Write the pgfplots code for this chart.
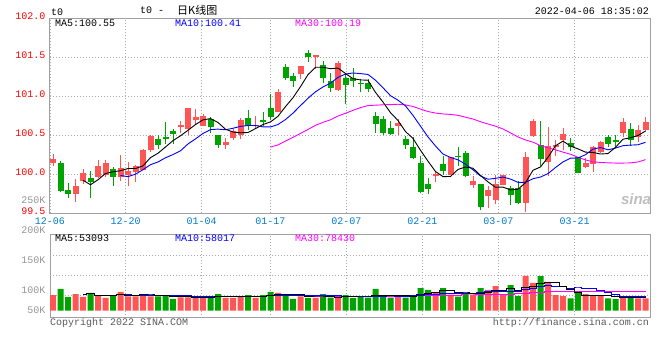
\documentclass[border=0pt]{standalone}
\usepackage{pgfplots}
\pgfplotsset{compat=1.18}
\usepackage{pgfplotstable}
\usepackage{fontspec}
\setmainfont{Liberation Mono}
\newfontfamily\cjk{Noto Sans CJK SC}
\newfontfamily\sinafont{Liberation Sans}

\definecolor{cred}{RGB}{255,85,85}
\definecolor{cgreen}{RGB}{0,163,0}
\definecolor{cprice}{RGB}{255,0,0}
\definecolor{cxlab}{RGB}{0,122,204}
\definecolor{cvlab}{RGB}{150,150,150}
\definecolor{cgrid}{RGB}{170,170,170}
\definecolor{cborder}{RGB}{160,160,160}
\definecolor{cmag}{RGB}{255,0,255}
\definecolor{cblue}{RGB}{0,0,255}
\definecolor{ccopy}{RGB}{90,90,90}

% daily candles: index, open, high, low, close
\pgfplotstableread{
i o h l c
0 100.15 100.26 100.11 100.20
3 99.75 99.94 99.645 99.855
4 99.92 100.07 99.88 100.02
6 99.96 100.18 99.95 100.11
7 99.99 100.18 99.96 100.145
9 99.96 100.25 99.91 100.085
10 99.99 100.16 99.85 100.047
11 100.026 100.12 99.906 100.107
12 100.056 100.33 100.056 100.316
13 100.308 100.50 100.29 100.496
17 100.61 100.68 100.526 100.63
18 100.58 100.85 100.50 100.85
19 100.70 100.84 100.65 100.74
20 100.62 100.77 100.62 100.75
23 100.37 100.47 100.33 100.42
24 100.47 100.58 100.44 100.556
25 100.51 100.72 100.457 100.70
27 100.62 100.75 100.58 100.63
30 100.80 101.09 100.80 101.056
33 101.28 101.39 101.22 101.39
35 101.50 101.53 101.35 101.53
38 101.08 101.45 101.07 101.43
46 100.615 100.705 100.50 100.66
51 99.98 100.047 99.906 100.004
53 99.996 100.226 99.99 100.22
56 99.86 99.98 99.825 99.915
58 99.72 99.855 99.564 99.80
59 99.67 99.99 99.62 99.876
60 99.86 99.996 99.86 99.99
63 99.63 100.286 99.52 100.22
64 100.49 100.705 100.48 100.68
66 100.16 100.60 99.98 100.36
67 100.346 100.44 100.235 100.37
68 100.44 100.59 100.31 100.517
71 100.094 100.21 100.08 100.145
72 100.13 100.363 100.03 100.35
73 100.28 100.43 100.27 100.415
76 100.526 100.72 100.474 100.667
78 100.48 100.63 100.42 100.57
79 100.564 100.74 100.556 100.67
}\redc

\pgfplotstableread{
i o h l c
1 100.145 100.17 99.77 99.786
2 99.80 99.89 99.70 99.75
5 99.957 100.04 99.70 99.906
8 100.07 100.09 99.855 99.97
14 100.45 100.51 100.33 100.37
15 100.48 100.67 100.39 100.45
16 100.556 100.58 100.39 100.52
21 100.71 100.74 100.53 100.60
22 100.50 100.50 100.34 100.38
26 100.72 100.82 100.57 100.62
28 100.70 100.80 100.62 100.675
29 100.85 101.03 100.69 100.73
31 101.37 101.41 101.21 101.24
32 101.26 101.30 101.12 101.20
34 101.56 101.59 101.44 101.50
36 101.40 101.45 101.17 101.24
37 101.19 101.30 101.06 101.11
39 101.23 101.30 100.90 101.15
40 101.24 101.36 101.12 101.20
41 101.17 101.22 101.05 101.16
42 101.175 101.22 101.05 101.09
43 100.75 100.80 100.53 100.65
44 100.71 100.75 100.50 100.53
45 100.59 100.68 100.51 100.52
47 100.45 100.49 100.33 100.38
48 100.35 100.48 100.20 100.21
49 100.14 100.24 99.756 99.77
50 99.876 99.95 99.75 99.816
52 100.13 100.24 99.996 100.047
54 100.24 100.35 100.107 100.22
55 100.27 100.30 99.96 99.98
57 99.876 99.876 99.54 99.585
61 99.825 99.85 99.61 99.74
62 99.825 99.915 99.62 99.63
65 100.376 100.68 100.10 100.20
69 100.40 100.46 100.30 100.355
70 100.22 100.226 100.02 100.02
74 100.474 100.51 100.346 100.39
75 100.44 100.50 100.355 100.42
77 100.58 100.658 100.368 100.44
}\greenc

% volume (thousands)
\pgfplotstableread{
i v
0 64
3 68
4 57
6 64
7 53
9 77
10 59
11 59
12 68
13 59
17 55
18 55
19 53
20 60
23 53
24 53
25 59
27 53
30 73
33 59
35 53
38 52
46 57
51 73
53 66
56 64
58 85
59 101
60 68
63 143
64 114
66 118
67 64
68 60
71 68
72 61
73 61
76 60
78 51
79 51
}\volr

\pgfplotstableread{
i v
1 89
2 57
5 73
8 64
14 59
15 64
16 49
21 57
22 68
26 64
28 64
29 77
31 68
32 48
34 53
36 68
37 54
39 64
40 52
41 59
42 54
43 89
44 57
45 54
47 54
48 64
49 93
50 85
52 93
54 58
55 73
57 93
61 105
62 61
65 142
69 51
70 73
74 51
75 47
77 60
}\volg

\pgfplotsset{
  kpanel/.style={
    scale only axis, anchor=south west, width=600bp,
    xmin=-0.4, xmax=79.6,
    axis line style={draw=cborder, line width=1bp},
    major tick length=0pt,
    tick style={draw=none},
    grid style={draw=cgrid, line width=0.8bp, dash pattern=on 1bp off 2bp},
    every tick label/.append style={font=\fontsize{10bp}{12bp}\selectfont, inner sep=0pt},
    /pgf/number format/assume math mode=true,
  },
  wick/.style={only marks, mark=*, mark size=0pt, mark options={draw=none, fill=none}, forget plot,
    error bars/.cd, y dir=plus, y explicit, error mark=none,
    error bar style={#1, line width=1bp}},
  body/.style={only marks, mark=*, mark size=0pt, mark options={draw=none, fill=none}, forget plot,
    error bars/.cd, y dir=plus, y explicit, error mark=none,
    error bar style={#1, line width=6bp}},
}

\begin{document}
\begin{tikzpicture}
\fill[white] (0bp,0bp) rectangle (660bp,360bp);
\path[use as bounding box] (0bp,0bp) rectangle (660bp,360bp);

% ---------------- price panel ----------------
\begin{axis}[kpanel,
  at={(50bp,146.7bp)}, height=195bp,
  ymin=99.5, ymax=102,
  xtick={-0.4,9.69,19.83,28.97,39.11,49.24,59.37,69.56},
  xticklabels={12-06,12-20,01-04,01-17,02-07,02-21,03-07,03-21},
  xticklabel style={anchor=base, yshift=-11.7bp, text=cxlab},
  ytick={99.5,100,100.5,101,101.5,102},
  yticklabels={99.5,100.0,100.5,101.0,101.5,102.0},
  yticklabel style={anchor=base east, xshift=-4.3bp, yshift=-1bp, text=cprice},
  grid=major,
]
\addplot[wick=cred] table[x=i, y=l, y error plus expr=\thisrow{h}-\thisrow{l}] {\redc};
\addplot[wick=cgreen] table[x=i, y=l, y error plus expr=\thisrow{h}-\thisrow{l}] {\greenc};
\addplot[body=cred] table[x=i, y=o, y error plus expr=\thisrow{c}-\thisrow{o}] {\redc};
\addplot[body=cgreen] table[x=i, y=c, y error plus expr=\thisrow{o}-\thisrow{c}] {\greenc};

% MA30
\addplot[cmag, line width=0.9bp, mark=none] coordinates {
(29,100.349) (30,100.377) (31,100.426) (32,100.474) (33,100.525) (34,100.574) (35,100.628) (36,100.666) (37,100.698) (38,100.747) (39,100.782) (40,100.82) (41,100.855) (42,100.881) (43,100.886) (44,100.891) (45,100.894) (46,100.898) (47,100.89) (48,100.869) (49,100.836) (50,100.805) (51,100.785) (52,100.774) (53,100.768) (54,100.756) (55,100.732) (56,100.709) (57,100.674) (58,100.645) (59,100.617) (60,100.581) (61,100.531) (62,100.479) (63,100.44) (64,100.412) (65,100.368) (66,100.339) (67,100.314) (68,100.284) (69,100.257) (70,100.218) (71,100.184) (72,100.16) (73,100.152) (74,100.147) (75,100.144) (76,100.144) (77,100.146) (78,100.158) (79,100.188)};
% MA10
\addplot[cblue, line width=0.9bp, mark=none] coordinates {
(9,99.985) (10,99.97) (11,100.002) (12,100.059) (13,100.123) (14,100.158) (15,100.212) (16,100.253) (17,100.301) (18,100.389) (19,100.454) (20,100.524) (21,100.573) (22,100.579) (23,100.571) (24,100.59) (25,100.615) (26,100.625) (27,100.625) (28,100.608) (29,100.607) (30,100.638) (31,100.702) (32,100.784) (33,100.881) (34,100.975) (35,101.058) (36,101.12) (37,101.168) (38,101.243) (39,101.285) (40,101.299) (41,101.291) (42,101.28) (43,101.206) (44,101.109) (45,101.008) (46,100.95) (47,100.877) (48,100.755) (49,100.617) (50,100.479) (51,100.363) (52,100.259) (53,100.216) (54,100.185) (55,100.131) (56,100.057) (57,99.978) (58,99.937) (59,99.948) (60,99.965) (61,99.939) (62,99.897) (63,99.897) (64,99.943) (65,99.965) (66,100.009) (67,100.087) (68,100.159) (69,100.207) (70,100.21) (71,100.251) (72,100.323) (73,100.343) (74,100.314) (75,100.336) (76,100.367) (77,100.374) (78,100.379) (79,100.41)};
% MA5
\addplot[black, line width=0.9bp, mark=none] coordinates {
(4,99.924) (5,99.866) (6,99.93) (7,100.01) (8,100.032) (9,100.046) (10,100.074) (11,100.074) (12,100.108) (13,100.214) (14,100.27) (15,100.35) (16,100.432) (17,100.494) (18,100.564) (19,100.638) (20,100.698) (21,100.714) (22,100.664) (23,100.578) (24,100.542) (25,100.532) (26,100.536) (27,100.586) (28,100.638) (29,100.672) (30,100.744) (31,100.868) (32,100.982) (33,101.124) (34,101.278) (35,101.372) (36,101.372) (37,101.354) (38,101.362) (39,101.292) (40,101.226) (41,101.21) (42,101.206) (43,101.05) (44,100.926) (45,100.79) (46,100.69) (47,100.548) (48,100.46) (49,100.308) (50,100.168) (51,100.036) (52,99.97) (53,99.972) (54,100.062) (55,100.094) (56,100.078) (57,99.986) (58,99.902) (59,99.834) (60,99.836) (61,99.80) (62,99.808) (63,99.892) (64,100.052) (65,100.094) (66,100.218) (67,100.366) (68,100.426) (69,100.362) (70,100.326) (71,100.284) (72,100.28) (73,100.26) (74,100.266) (75,100.346) (76,100.45) (77,100.468) (78,100.498) (79,100.554)};
\end{axis}

% ---------------- volume panel ----------------
\begin{axis}[kpanel,
  at={(50bp,42bp)}, height=83.7bp,
  ymin=-29.9, ymax=313.2,
  xtick={9.69,19.83,28.97,39.11,49.24,59.37,69.56},
  xticklabels={},
  xmajorgrids=true,
  ytick={-6.6,75.4,198.4},
  yticklabels={50K,100K,150K},
  yticklabel style={anchor=base east, xshift=-4.3bp, yshift=-1bp, text=cvlab},
  ymajorgrids=false,
  extra y ticks={64.4,146.4,228.4},
  extra y tick labels={},
  extra y tick style={grid=major},
]
\addplot[ybar, bar width=0.8, bar shift=0pt, fill=cred, draw=none] table[x=i, y=v] {\volr};
\addplot[ybar, bar width=0.8, bar shift=0pt, fill=cgreen, draw=none] table[x=i, y=v] {\volg};
% MA30
\addplot[cmag, line width=1bp, mark=none, const plot mark mid] coordinates {
(29,61.8) (30,62.1) (31,61.4) (32,61.1) (33,60.8) (34,60.7) (35,60.0) (36,60.1) (37,60.2) (38,59.8) (39,59.3) (40,59.1) (41,59.1) (42,58.6) (43,59.6) (44,59.6) (45,59.2) (46,59.5) (47,59.5) (48,59.8) (49,61.1) (50,61.9) (51,62.5) (52,63.3) (53,63.7) (54,63.9) (55,64.4) (56,64.4) (57,65.7) (58,66.4) (59,67.2) (60,67.0) (61,68.3) (62,68.7) (63,71.5) (64,73.5) (65,76.5) (66,78.2) (67,78.5) (68,78.8) (69,78.3) (70,79.0) (71,79.3) (72,79.6) (73,78.6) (74,78.4) (75,78.2) (76,78.3) (77,78.5) (78,78.1) (79,76.7)};
% MA10
\addplot[cblue, line width=1bp, mark=none, const plot mark mid] coordinates {
(9,66.6) (10,66.1) (11,63.1) (12,64.2) (13,63.3) (14,63.5) (15,62.6) (16,61.1) (17,61.3) (18,60.4) (19,58.0) (20,58.1) (21,57.9) (22,57.9) (23,57.3) (24,56.7) (25,56.2) (26,57.7) (27,57.5) (28,58.4) (29,60.8) (30,62.1) (31,63.2) (32,61.2) (33,61.8) (34,61.8) (35,61.2) (36,61.6) (37,61.7) (38,60.5) (39,59.2) (40,57.1) (41,56.2) (42,56.8) (43,59.8) (44,60.2) (45,60.3) (46,59.2) (47,59.2) (48,60.4) (49,63.3) (50,66.6) (51,68.0) (52,71.9) (53,69.6) (54,69.7) (55,71.6) (56,72.3) (57,76.2) (58,78.3) (59,79.1) (60,77.4) (61,80.6) (62,77.4) (63,85.1) (64,90.7) (65,97.6) (66,103.0) (67,100.1) (68,97.6) (69,92.6) (70,93.1) (71,89.4) (72,89.4) (73,81.2) (74,74.9) (75,65.4) (76,59.6) (77,59.2) (78,58.3) (79,58.3)};
% MA5
\addplot[black, line width=1bp, mark=none, const plot mark mid] coordinates {
(4,67.0) (5,68.8) (6,63.8) (7,63.0) (8,62.2) (9,66.2) (10,63.4) (11,62.4) (12,65.4) (13,64.4) (14,60.8) (15,61.8) (16,59.8) (17,57.2) (18,56.4) (19,55.2) (20,54.4) (21,56.0) (22,58.6) (23,58.2) (24,58.2) (25,58.0) (26,59.4) (27,56.4) (28,58.6) (29,63.4) (30,66.2) (31,67.0) (32,66.0) (33,65.0) (34,60.2) (35,56.2) (36,56.2) (37,57.4) (38,56.0) (39,58.2) (40,58.0) (41,56.2) (42,56.2) (43,63.6) (44,62.2) (45,62.6) (46,62.2) (47,62.2) (48,57.2) (49,64.4) (50,70.6) (51,73.8) (52,81.6) (53,82.0) (54,75.0) (55,72.6) (56,70.8) (57,70.8) (58,74.6) (59,83.2) (60,82.2) (61,90.4) (62,84.0) (63,95.6) (64,98.2) (65,113.0) (66,115.6) (67,116.2) (68,99.6) (69,87.0) (70,73.2) (71,63.2) (72,62.6) (73,62.8) (74,62.8) (75,57.6) (76,56.0) (77,55.8) (78,53.8) (79,53.8)};
\end{axis}

% ---------------- texts ----------------
\begin{scope}[every node/.style={inner sep=0pt, font=\fontsize{10bp}{12bp}\selectfont}]
\node[anchor=base west] at (51bp,344bp) {t0};
\node[anchor=base west] at (140bp,346.5bp) {t0 -};
\node[anchor=base west] at (177bp,345.5bp) {\cjk\fontsize{11bp}{12bp}\selectfont 日K线图};
\node[anchor=base east] at (649bp,345bp) {2022-04-06 18:35:02};
\node[anchor=base west] at (55bp,333.3bp) {MA5:100.55};
\node[anchor=base west, text=cblue] at (175bp,333.3bp) {MA10:100.41};
\node[anchor=base west, text=cmag] at (295bp,333.3bp) {MA30:100.19};
\node[anchor=base west] at (55bp,118.3bp) {MA5:53093};
\node[anchor=base west, text=cblue] at (175bp,118.3bp) {MA10:58017};
\node[anchor=base west, text=cmag] at (295bp,118.3bp) {MA30:78430};
\node[anchor=base east, text=cvlab] at (45.7bp,156bp) {250K};
\node[anchor=base east, text=cvlab] at (45.7bp,126.7bp) {200K};
\node[anchor=base west, text=ccopy] at (50bp,34.5bp) {Copyright 2022 SINA.COM};
\node[anchor=base east, text=ccopy] at (649bp,34.5bp) {http://finance.sina.com.cn};
\node[anchor=base, text=black!25] at (636bp,155bp) {\sinafont\bfseries\itshape\fontsize{15bp}{16bp}\selectfont sina};
\end{scope}
\end{tikzpicture}
\end{document}
